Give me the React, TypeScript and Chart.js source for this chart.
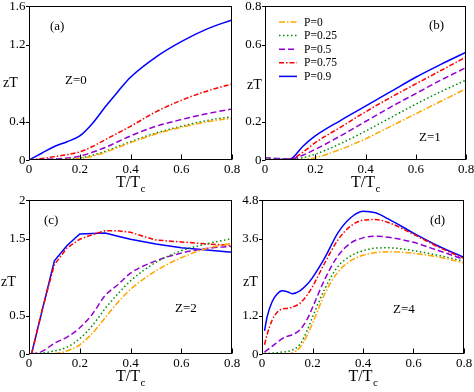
import React, { useEffect, useRef } from 'react';
import { Chart, registerables } from 'chart.js';

Chart.register(...registerables);

const FONT = 'Liberation Serif';

const SERIES_LABELS = ['P=0', 'P=0.25', 'P=0.5', 'P=0.75', 'P=0.9'];
const SERIES_COLORS = ['#FFA500', '#008B00', '#9400D3', '#FF0000', '#0000FF'];
const SERIES_DASHES = [[6, 2, 1.5, 2], [1.5, 2.5], [6, 3], [5, 2, 1.5, 2], []];

const X_TICKS = [0, 0.2, 0.4, 0.6, 0.8];

// Panel (a) Z=0
const T_A = [0, 0.05, 0.1, 0.15, 0.2, 0.25, 0.3, 0.35, 0.4, 0.5, 0.6, 0.7, 0.8];
const A_P0 = [0, 0, 0.002, 0.006, 0.015, 0.04, 0.08, 0.13, 0.18, 0.27, 0.34, 0.395, 0.435];
const A_P025 = [0, 0, 0.005, 0.01, 0.02, 0.05, 0.09, 0.14, 0.19, 0.28, 0.35, 0.41, 0.45];
const A_P05 = [0, 0.005, 0.01, 0.02, 0.04, 0.08, 0.13, 0.19, 0.25, 0.35, 0.42, 0.48, 0.53];
const A_P075 = [0, 0.015, 0.035, 0.055, 0.085, 0.14, 0.21, 0.28, 0.35, 0.5, 0.62, 0.715, 0.79];
const A_P09 = [0, 0.07, 0.14, 0.19, 0.25, 0.38, 0.55, 0.71, 0.86, 1.07, 1.23, 1.36, 1.455];
const A_Y_TICKS = [0, 0.4, 0.8, 1.2, 1.6];
const A_Y_HIDDEN = [0.8];

// Panel (b) Z=1
const T_B = [0, 0.05, 0.1, 0.15, 0.2, 0.3, 0.4, 0.5, 0.6, 0.7, 0.8];
const B_P0 = [0, 0, 0, 0.003, 0.012, 0.055, 0.11, 0.175, 0.24, 0.305, 0.37];
const B_P025 = [0.005, 0.004, 0.003, 0.012, 0.03, 0.085, 0.15, 0.22, 0.29, 0.355, 0.415];
const B_P05 = [0.012, 0.008, 0.005, 0.025, 0.055, 0.125, 0.2, 0.275, 0.345, 0.415, 0.48];
const B_P075 = [0, 0.002, 0.004, 0.04, 0.09, 0.17, 0.25, 0.325, 0.395, 0.465, 0.535];
const B_P09 = [0, 0.002, 0.005, 0.07, 0.125, 0.205, 0.28, 0.355, 0.43, 0.497, 0.56];
const B_Y_TICKS = [0, 0.2, 0.4, 0.6, 0.8];
const B_Y_HIDDEN = [0.4];

// Panel (c) Z=2
const T_C = [0.01, 0.05, 0.1, 0.15, 0.2, 0.25, 0.3, 0.35, 0.4, 0.5, 0.6, 0.7, 0.8];
const C_P0 = [0, 0, 0.005, 0.04, 0.12, 0.27, 0.47, 0.67, 0.84, 1.08, 1.25, 1.37, 1.44];
const C_P025 = [0, 0.01, 0.04, 0.09, 0.2, 0.37, 0.59, 0.78, 0.95, 1.19, 1.34, 1.43, 1.5];
const C_P05 = [0, 0.03, 0.14, 0.22, 0.34, 0.52, 0.76, 0.9, 1.05, 1.21, 1.31, 1.37, 1.4];
const C_P075 = [0, 0.55, 1.16, 1.38, 1.49, 1.55, 1.6, 1.6, 1.58, 1.48, 1.455, 1.43, 1.41];
const C_P09 = [0, 0.54, 1.21, 1.41, 1.56, 1.565, 1.57, 1.53, 1.49, 1.43, 1.38, 1.35, 1.32];
const C_Y_TICKS = [0, 0.5, 1, 1.5, 2];
const C_Y_HIDDEN = [1];

// Panel (d) Z=4
const T_D = [0.01, 0.02, 0.04, 0.06, 0.08, 0.1, 0.12, 0.15, 0.18, 0.2, 0.25, 0.3, 0.35, 0.4, 0.45, 0.5, 0.6, 0.7, 0.8];
const D_P0 = [0, 0, 0, 0, 0, 0, 0.03, 0.2, 0.6, 0.95, 1.9, 2.55, 2.9, 3.08, 3.16, 3.19, 3.14, 3.02, 2.84];
const D_P025 = [0.02, 0.02, 0.03, 0.04, 0.06, 0.08, 0.12, 0.3, 0.75, 1.15, 2.05, 2.72, 3.05, 3.22, 3.3, 3.31, 3.22, 3.07, 2.89];
const D_P05 = [0.06, 0.12, 0.24, 0.36, 0.48, 0.55, 0.6, 0.75, 1.1, 1.45, 2.35, 3.05, 3.45, 3.62, 3.67, 3.64, 3.48, 3.22, 2.95];
const D_P075 = [0.29, 0.6, 1.05, 1.3, 1.4, 1.42, 1.46, 1.58, 1.85, 2.1, 2.86, 3.55, 3.98, 4.17, 4.19, 4.1, 3.73, 3.33, 2.98];
const D_P09 = [0.72, 1.15, 1.63, 1.87, 1.97, 1.94, 1.88, 1.97, 2.18, 2.38, 3.02, 3.77, 4.24, 4.45, 4.4, 4.21, 3.77, 3.36, 3.01];
const D_Y_TICKS = [0, 1.2, 2.4, 3.6, 4.8];
const D_Y_HIDDEN = [2.4];

type Box = { x: number; y: number; w: number; h: number };
type Area = { left: number; top: number; right: number; bottom: number };
type Spec = {
  T: number[];
  series: number[][];
  yTicks: number[];
  yHidden: number[];
  box: Box;
  area: Area;
  tag: string;
  tagPos: [number, number];
  zLabel: string;
  zPos: [number, number];
  zTPos: [number, number];
  legend?: boolean;
  linear?: boolean[];
};

const PANELS: Spec[] = [
  {
    T: T_A, series: [A_P0, A_P025, A_P05, A_P075, A_P09], yTicks: A_Y_TICKS, yHidden: A_Y_HIDDEN,
    box: { x: 0, y: 0, w: 244, h: 196 },
    area: { left: 29, top: 6, right: 232, bottom: 160 },
    tag: '(a)', tagPos: [50, 27], zLabel: 'Z=0', zPos: [65, 81], zTPos: [3, 83],
  },
  {
    T: T_B, series: [B_P0, B_P025, B_P05, B_P075, B_P09], yTicks: B_Y_TICKS, yHidden: B_Y_HIDDEN,
    box: { x: 234, y: 0, w: 240, h: 196 },
    area: { left: 265, top: 6, right: 466, bottom: 160 },
    tag: '(b)', tagPos: [429, 26], zLabel: 'Z=1', zPos: [419, 138], zTPos: [247, 85], legend: true,
  },
  {
    T: T_C, series: [C_P0, C_P025, C_P05, C_P075, C_P09], yTicks: C_Y_TICKS, yHidden: C_Y_HIDDEN,
    box: { x: 0, y: 196, w: 244, h: 196 },
    area: { left: 29, top: 200, right: 232, bottom: 354 },
    tag: '(c)', tagPos: [44, 221], zLabel: 'Z=2', zPos: [175, 309], zTPos: [1, 282],
    linear: [false, false, false, true, true],
  },
  {
    T: T_D, series: [D_P0, D_P025, D_P05, D_P075, D_P09], yTicks: D_Y_TICKS, yHidden: D_Y_HIDDEN,
    box: { x: 234, y: 196, w: 240, h: 196 },
    area: { left: 262, top: 200, right: 464, bottom: 354 },
    tag: '(d)', tagPos: [430, 221], zLabel: 'Z=4', zPos: [393, 310], zTPos: [243, 282],
  },
];

const W = 474;
const H = 392;
const X_AXIS_H = 22;

function buildConfig(spec: Spec): any {
  const a = spec.area;
  const bx = spec.box;
  const yMax = spec.yTicks[spec.yTicks.length - 1];
  const decor = {
    id: 'decor',
    afterDraw(chart: any) {
      const ctx = chart.ctx;
      const ca = chart.chartArea;
      const xs = chart.scales.x;
      const ys = chart.scales.y;
      ctx.save();
      ctx.strokeStyle = '#000';
      ctx.lineWidth = 1;
      ctx.setLineDash([]);
      const l = Math.round(ca.left) + 0.5;
      const t = Math.round(ca.top) + 0.5;
      const r = Math.round(ca.right) - 0.5;
      const b = Math.round(ca.bottom) - 0.5;
      ctx.strokeRect(l, t, r - l, b - t);
      ctx.beginPath();
      X_TICKS.forEach((v) => {
        const px = Math.round(xs.getPixelForValue(v)) + 0.5;
        ctx.moveTo(px, b);
        ctx.lineTo(px, b - 5);
      });
      spec.yTicks.forEach((v) => {
        if (spec.yHidden.includes(v)) return;
        const py = Math.round(ys.getPixelForValue(v)) + 0.5;
        ctx.moveTo(l, py);
        ctx.lineTo(l - 3.5, py);
      });
      ctx.stroke();
      ctx.fillStyle = '#000';
      ctx.font = `13px ${FONT}`;
      ctx.textAlign = 'right';
      ctx.textBaseline = 'middle';
      spec.yTicks.forEach((v) => {
        if (spec.yHidden.includes(v)) return;
        const py = ys.getPixelForValue(v);
        ctx.fillText(String(v), l - 4, py + 0.5);
      });
      ctx.textAlign = 'left';
      ctx.font = `16px ${FONT}`;
      const main = 'T/T';
      const mw = ctx.measureText(main).width;
      ctx.font = `11px ${FONT}`;
      const sw = ctx.measureText('c').width;
      const cx = (ca.left + ca.right) / 2;
      const x0 = cx - (mw + sw) / 2;
      const ty = ca.bottom + 23;
      ctx.font = `16px ${FONT}`;
      ctx.fillText(main, x0, ty);
      ctx.font = `11px ${FONT}`;
      ctx.fillText('c', x0 + mw + 0.5, ty + 6);
      ctx.translate(-bx.x, -bx.y);
      ctx.font = `13px ${FONT}`;
      ctx.fillText(spec.tag, spec.tagPos[0], spec.tagPos[1]);
      ctx.fillText(spec.zLabel, spec.zPos[0], spec.zPos[1]);
      ctx.font = `14px ${FONT}`;
      ctx.fillText('zT', spec.zTPos[0], spec.zTPos[1]);
      if (spec.legend) {
        ctx.font = `11.5px ${FONT}`;
        chart.data.datasets.forEach((ds: any, i: number) => {
          const y = 22 + i * 13.6;
          ctx.strokeStyle = ds.borderColor;
          ctx.lineWidth = ds.borderWidth;
          ctx.setLineDash(ds.borderDash || []);
          ctx.beginPath();
          ctx.moveTo(279, y);
          ctx.lineTo(297, y);
          ctx.stroke();
          ctx.setLineDash([]);
          ctx.fillStyle = '#000';
          ctx.fillText(ds.label, 304, y + 0.5);
        });
      }
      ctx.restore();
    },
  };

  const datasets = spec.series.map((vals, i) => ({
    label: SERIES_LABELS[i],
    data: spec.T.map((t, j) => ({ x: t, y: vals[j] })),
    borderColor: SERIES_COLORS[i],
    backgroundColor: SERIES_COLORS[i],
    borderDash: SERIES_DASHES[i],
    borderWidth: 1.5,
    pointRadius: 0,
    fill: false,
    tension: 0,
    cubicInterpolationMode: spec.linear && spec.linear[i] ? 'default' : 'monotone',
  }));

  const zeroPad = (s: any) => {
    s.paddingTop = 0;
    s.paddingBottom = 0;
    s.paddingLeft = 0;
    s.paddingRight = 0;
  };

  return {
    type: 'line',
    data: { datasets },
    plugins: [decor],
    options: {
      responsive: false,
      animation: false,
      devicePixelRatio: 1,
      events: [],
      layout: {
        padding: {
          left: a.left - bx.x,
          right: bx.x + bx.w - a.right,
          top: a.top - bx.y,
          bottom: bx.y + bx.h - a.bottom - X_AXIS_H,
        },
      },
      plugins: { legend: { display: false }, tooltip: { enabled: false }, title: { display: false } },
      scales: {
        x: {
          type: 'linear',
          min: 0,
          max: 0.8,
          afterBuildTicks: (s: any) => {
            s.ticks = X_TICKS.map((v) => ({ value: v }));
          },
          afterFit: (s: any) => {
            s.height = X_AXIS_H;
            zeroPad(s);
          },
          ticks: {
            font: { family: FONT, size: 13 },
            color: '#000',
            padding: 2,
            maxRotation: 0,
            autoSkip: false,
            callback: (v: number) => String(v),
          },
          grid: { display: true, drawOnChartArea: false, drawTicks: false, color: 'rgba(0,0,0,0)' },
          border: { display: false },
        },
        y: {
          type: 'linear',
          display: false,
          min: 0,
          max: yMax,
        },
      },
    },
  };
}

function Panel({ spec }: { spec: Spec }) {
  const ref = useRef<HTMLCanvasElement | null>(null);
  useEffect(() => {
    if (!ref.current) return;
    const chart = new Chart(ref.current, buildConfig(spec));
    return () => chart.destroy();
  }, [spec]);
  const bx = spec.box;
  return (
    <canvas
      ref={ref}
      width={bx.w}
      height={bx.h}
      style={{ position: 'absolute', left: bx.x, top: bx.y, width: bx.w, height: bx.h }}
    />
  );
}

export default function App() {
  return (
    <div style={{ position: 'fixed', left: 0, top: 0, width: W, height: H, background: '#fff' }}>
      {PANELS.map((p, i) => (
        <Panel key={i} spec={p} />
      ))}
    </div>
  );
}
